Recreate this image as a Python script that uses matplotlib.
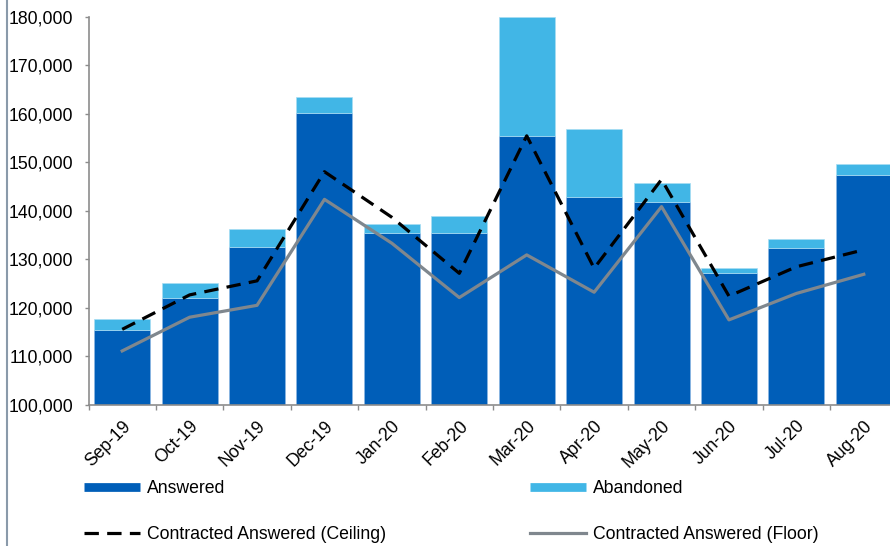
import matplotlib
matplotlib.use("Agg")
import matplotlib.pyplot as plt
from matplotlib.lines import Line2D
from matplotlib.ticker import FuncFormatter

plt.rcParams['font.family'] = ['Liberation Sans', 'DejaVu Sans']

months = ["Sep-19", "Oct-19", "Nov-19", "Dec-19", "Jan-20", "Feb-20",
          "Mar-20", "Apr-20", "May-20", "Jun-20", "Jul-20", "Aug-20"]
answered = [115500, 122100, 132600, 160300, 135400, 135400,
            155400, 142950, 141900, 127300, 132450, 147400]
abandoned = [2200, 3050, 3750, 3300, 1850, 3550,
             24600, 13900, 3850, 900, 1800, 2300]
ceiling = [115600, 122700, 125600, 148100, 138700, 127150,
           155500, 128200, 146500, 122450, 128500, 132000]
floor = [111150, 118100, 120550, 142400, 133350, 122150,
         130950, 123250, 140900, 117550, 123000, 126950]

C_ANS = "#005EB8"
C_ABN = "#41B6E6"
C_FLOOR = "#7F878E"
FS = 12.7

fig = plt.figure(figsize=(8.9, 5.46), dpi=100)
ax = fig.add_axes([88.5 / 890, 141 / 546, 809 / 890, 388 / 546])

x = list(range(len(months)))
ax.bar(x, answered, width=0.83, color=C_ANS, edgecolor="#8DB8E3", linewidth=0.5, zorder=2)
ax.bar(x, abandoned, width=0.83, bottom=answered, color=C_ABN, edgecolor="#A9DDF3",
       linewidth=0.5, zorder=2)
ax.plot(x, floor, color=C_FLOOR, lw=2.3, zorder=3)
ax.plot(x, ceiling, color="black", lw=2.3, dashes=(4.5, 2.6), zorder=4)

ax.set_xlim(-0.5, 11.5)
ax.set_ylim(100000, 180000)
ax.set_yticks(range(100000, 180001, 10000))
ax.yaxis.set_major_formatter(FuncFormatter(lambda v, p: f"{int(v):,}"))
ax.set_xticks(x)
ax.set_xticklabels(months, rotation=45, ha="right", rotation_mode="anchor")
ax.set_xticks([i - 0.5 for i in range(13)], minor=True)
ax.tick_params(axis="x", which="major", length=0, pad=9, labelsize=FS)
ax.tick_params(axis="x", which="minor", length=3.5, color="#8C8C8C", width=1)
ax.tick_params(axis="y", length=3, color="#8C8C8C", width=1, labelsize=FS, pad=8)
for side in ("top", "right"):
    ax.spines[side].set_visible(False)
for side in ("left", "bottom"):
    ax.spines[side].set_color("#8C8C8C")
    ax.spines[side].set_linewidth(1.2)

# thin border line along the left edge of the figure
fig.add_artist(Line2D([6.5 / 890, 6.5 / 890], [0, 1], transform=fig.transFigure,
                      color="#8A9AAA", lw=1.5))

h_ans = Line2D([], [], color=C_ANS, lw=6.3, solid_capstyle="butt")
h_abn = Line2D([], [], color=C_ABN, lw=6.3, solid_capstyle="butt")
h_ceil = Line2D([], [], color="black", lw=2.3, dashes=(4.5, 2.6))
h_floor = Line2D([], [], color=C_FLOOR, lw=2.3)

common = dict(frameon=False, fontsize=FS, handlelength=3.2, handletextpad=0.35,
              labelspacing=1.65, borderpad=0, borderaxespad=0, loc="upper left")
fig.legend([h_ans, h_ceil], ["Answered", "Contracted Answered (Ceiling)"],
           bbox_to_anchor=(84 / 890, 1 - 480 / 546), **common)
fig.legend([h_abn, h_floor], ["Abandoned", "Contracted Answered (Floor)"],
           bbox_to_anchor=(530 / 890, 1 - 480 / 546), **common)

fig.savefig("out.png", dpi=100)
